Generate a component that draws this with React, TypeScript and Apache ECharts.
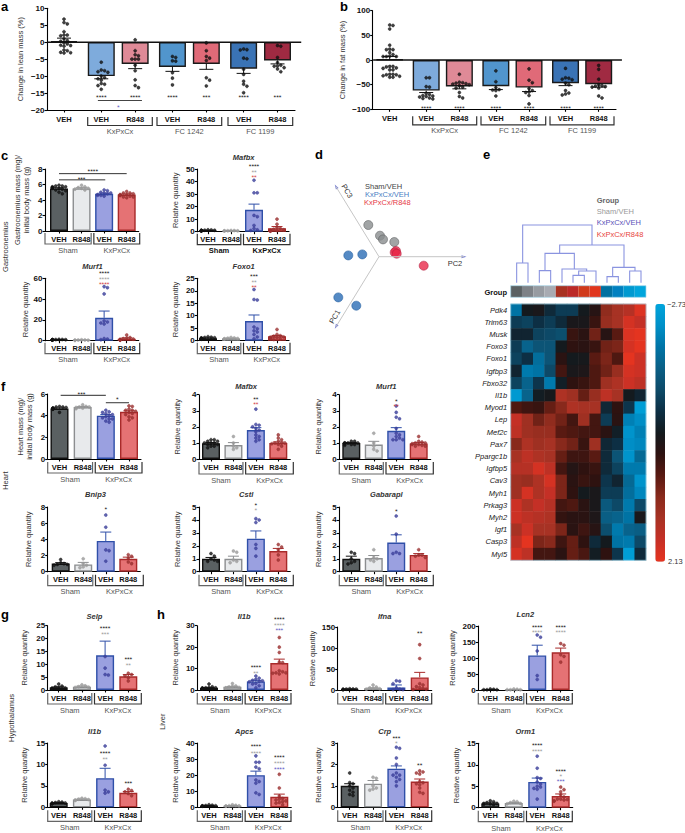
import React, { useEffect, useRef } from "react";
import * as echarts from "echarts";

const FONT = '"Liberation Sans", Arial, sans-serif';
const STAR_FONT = '"DejaVu Sans", sans-serif';
const labels7 = ["VEH", "VEH", "R848", "VEH", "R848", "VEH", "R848"];
const labels4 = ["VEH", "R848", "VEH", "R848"];

// ---- panel a
const leanMeans = [0.3, -10, -6.4, -7.3, -6.4, -7.8, -5.4];
const leanErrs = [0.9, 0.8, 1.4, 1.3, 1.6, 1.4, 1.0];
const leanPts = [
  [6.8, 5.8, 5.4, 3.1, 2.1, 2.1, 1.9, 1, 0.5, 0.3, -0.2, -0.5, -0.9, -1.0, -1.2, -2.3, -2.5, -3, -3.1, -3.2],
  [-5.9, -8.2, -8.4, -8.7, -8.9, -10, -10.4, -10.8, -11.2, -12.2, -12.4, -12.8, -13.9],
  [0.7, -2.5, -3.7, -4, -5, -5, -5, -6.8, -8.4, -11.1, -12.8, -13.4],
  [-4.2, -4.5, -5.5, -5.6, -9, -10.6, -12.6],
  [-0.2, -2.5, -4.2, -4.7, -5.4, -10.5, -11.2, -12.9],
  [-2, -2.2, -2.3, -4.7, -4.9, -8, -9.5, -11.5, -12.4, -13, -14.9],
  [-1, -1.2, -4.5, -6, -6.8, -7, -7.1, -7.5, -7.9, -8.7],
];
// ---- panel b
const fatMeans = [1, -62, -53.5, -53, -56, -47, -49];
const fatErrs = [6, 4, 5, 7, 8, 5, 6];
const fatPts = [
  [71, 70, 63, 30, 22, 21, 21, 15, 11, 8, 7, 7, 7, -13, -13, -16, -14, -17, -20, -20, -29, -29, -30, -30, -32, -33, -35, -35],
  [-36, -36, -54, -55, -68, -70, -72, -73, -74, -75, -77, -78, -79],
  [-29, -45, -46, -47, -48, -49, -50, -52, -55, -57, -66, -74, -77],
  [-22, -44, -56, -60, -61, -62, -73],
  [-18, -41, -46, -58, -62, -65, -66, -72, -89],
  [-17, -36, -37, -39, -40, -47, -50, -62, -67, -69, -71],
  [-11, -19, -39, -50, -52, -53, -54, -55, -57, -73, -77],
];
// ---- panel c
const gastroMeans = [5.5, 5.5, 4.8, 4.7];
const gastroErrs = [0.08, 0.08, 0.08, 0.08];
const gastroPts = [
  [5.9, 5.8, 5.8, 5.7, 5.7, 5.6, 5.6, 5.5, 5.5, 5.4, 5.3, 5.2, 5, 4.8],
  [5.9, 5.7, 5.6, 5.5, 5.5, 5.4, 5.3],
  [5.3, 5.2, 5, 4.9, 4.9, 4.8, 4.7, 4.6, 4.6, 4.5],
  [5.1, 4.9, 4.9, 4.8, 4.7, 4.7, 4.6, 4.6, 4.5, 4.4, 4.4, 4.3],
];
const mafbxGMeans = [1, 0.8, 17.5, 2.8];
const mafbxGErrs = [0.1, 0.1, 4.5, 1.3];
const mafbxGPts = [
  [1.5, 1.4, 1.2, 1.1, 1, 1, 0.9, 0.8, 0.8, 0.7, 0.6],
  [1, 0.9, 0.8, 0.7, 0.7, 0.6],
  [41, 31, 31, 13, 12, 5, 2.5, 1.5, 1],
  [10, 6, 3.5, 2.5, 2, 1.5, 1.2, 1, 0.8, 0.5, 0.5],
];
const murf1GMeans = [1, 0.6, 22, 1.8];
const murf1GErrs = [0.1, 0.1, 6.5, 0.8];
const murf1GPts = [
  [1.3, 1.2, 1.1, 1, 1, 0.9, 0.9, 0.8, 0.7, 0.6],
  [0.9, 0.7, 0.6, 0.5, 0.5, 0.4],
  [52, 51, 45, 19, 18, 17, 16, 2, 1.5, 1],
  [5.5, 3, 2.5, 2, 1.5, 1.2, 1, 0.8, 0.6, 0.5],
];
const foxo1GMeans = [1, 0.9, 7.9, 1.8];
const foxo1GErrs = [0.1, 0.1, 2.4, 0.3];
const foxo1GPts = [
  [1.6, 1.4, 1.3, 1.2, 1.1, 1, 0.9, 0.8, 0.7, 0.6],
  [1.3, 1.1, 1, 0.9, 0.8, 0.7],
  [20.5, 16.5, 16.3, 5.5, 4.8, 4, 3.5, 2.5, 1.5, 0.8],
  [4.5, 2.5, 2, 1.8, 1.5, 1.4, 1.2, 1, 0.9, 0.7, 0.5],
];
// ---- panel f
const heartMeans = [4.65, 4.8, 4, 4.35];
const heartErrs = [0.05, 0.05, 0.1, 0.1];
const heartPts = [
  [4.85, 4.8, 4.8, 4.75, 4.7, 4.7, 4.65, 4.6, 4.6, 4.3],
  [5, 4.85, 4.8, 4.8, 4.75, 4.7, 4.65],
  [4.5, 4.35, 4.3, 4.2, 4.1, 4, 3.9, 3.8, 3.7, 3.7, 3.5, 3.4],
  [4.9, 4.85, 4.6, 4.5, 4.5, 4.4, 4.3, 4.2, 4.1, 3.9, 3.8, 3.6],
];
const mafbxHMeans = [0.98, 0.87, 1.8, 1];
const mafbxHErrs = [0.05, 0.15, 0.15, 0.06];
const mafbxHPts = [
  [1.2, 1.2, 1.1, 1.1, 1, 1, 1, 0.9, 0.9, 0.8, 0.8, 0.7],
  [1.4, 1, 0.8, 0.7, 0.6],
  [3.1, 2.15, 2.1, 2, 1.9, 1.8, 1.7, 1.5, 1.4, 1.3, 1.2, 1.1],
  [1.5, 1.3, 1.2, 1.1, 1, 1, 1, 0.95, 0.9, 0.8, 0.6],
];
const murf1HMeans = [1, 0.9, 1.75, 0.97];
const murf1HErrs = [0.03, 0.2, 0.2, 0.05];
const murf1HPts = [
  [1.1, 1.1, 1, 1, 1, 1, 0.95, 0.95, 0.9, 0.9, 0.85],
  [1.6, 1, 0.8, 0.6, 0.5],
  [3.3, 2.9, 2.6, 2.5, 1.9, 1.6, 1.5, 1.4, 1.3, 1.2, 1.2, 1.2],
  [1.4, 1.1, 1.05, 1, 1, 0.95, 0.9, 0.9, 0.85, 0.8, 0.8],
];
const bnip3Means = [1, 0.9, 3.8, 1.6];
const bnip3Errs = [0.12, 0.25, 1.1, 0.2];
const bnip3Pts = [
  [1.5, 1.1, 1, 0.9, 0.9, 0.8],
  [1.6, 1, 0.8, 0.6, 0.5],
  [7, 5.5, 2.7, 2.6, 1.3],
  [2.1, 1.9, 1.7, 1.2, 1],
];
const cstlMeans = [1, 1, 2.55, 1.6];
const cstlErrs = [0.1, 0.2, 0.6, 0.2];
const cstlPts = [
  [1.4, 1.2, 1, 0.9, 0.8, 0.8],
  [1.6, 1.5, 0.9, 0.8, 0.7],
  [4.1, 4, 3.8, 2.1, 1.8, 1.2],
  [2.1, 1.9, 1.7, 1.3, 0.9],
];
const gabaraplMeans = [1, 1.05, 2.25, 1.3];
const gabaraplErrs = [0.2, 0.2, 0.6, 0.1];
const gabaraplPts = [
  [1.5, 1.4, 1, 0.8, 0.7, 0.6],
  [1.7, 1.1, 1, 0.9, 0.8],
  [4.3, 2.9, 1.5, 1.4, 1.4],
  [1.7, 1.3, 1.3, 1.2, 1.1],
];
// ---- panel g
const selpMeans = [1, 1.3, 13.5, 5.3];
const selpErrs = [0.2, 0.2, 5.5, 0.7];
const selpPts = [
  [2.3, 1.5, 1.2, 1, 0.8, 0.7, 0.6, 0.5],
  [2, 1.6, 1.3, 1.1, 1],
  [13, 8.5, 6, 5.8],
  [6.5, 6, 5.5, 4.8, 3.5],
];
const il1bHyMeans = [1, 1.8, 6.8, 3.4];
const il1bHyErrs = [0.1, 0.1, 2.3, 0.3];
const il1bHyPts = [
  [1.3, 1.2, 1.1, 1, 1, 0.9, 0.8],
  [2.1, 2, 1.9, 1.8, 1.7, 1.6],
  [14.3, 9.8, 4, 3.6, 3.3],
  [4.2, 3.9, 3.6, 3.2, 2.7],
];
// ---- panel h
const il1bLiMeans = [1, 1.5, 4, 12.6];
const il1bLiErrs = [0.1, 0.2, 0.5, 1.8];
const il1bLiPts = [
  [2.8, 1.5, 1.2, 1, 1, 0.9, 0.8, 0.7, 0.6, 0.5],
  [3, 1.9, 1.6, 1.4, 1.2, 1, 0.9],
  [6.5, 5.5, 5, 4.5, 4.3, 4, 3.8, 3, 2.8, 2, 1],
  [24.5, 20, 17.5, 13, 12.8, 9, 8.5, 8, 8, 7.8, 7.5],
];
const ifnaMeans = [2, 4, 6, 30];
const ifnaErrs = [0.5, 1, 6, 12];
const ifnaPts = [
  [3, 2.5, 2, 2, 1.5, 1, 1],
  [12, 7, 5, 4, 3, 2],
  [22, 21, 15, 5, 2, 1, 1],
  [108, 75, 15, 12, 8, 6, 4, 2, 1],
];
const lcn2Means = [1, 1, 108, 118];
const lcn2Errs = [0.5, 0.5, 32, 13];
const lcn2Pts = [
  [3, 2, 1, 1, 1],
  [3, 2, 1, 1, 1],
  [172, 165, 122, 45, 33],
  [145, 140, 110, 105, 87],
];
const apcsMeans = [1, 1, 20, 6.5];
const apcsErrs = [0.1, 0.1, 2.5, 1.7];
const apcsPts = [
  [1.6, 1.3, 1.1, 1, 0.9, 0.8, 0.7],
  [1.5, 1.2, 1, 0.9, 0.8, 0.7],
  [32, 28, 28, 25, 24, 17, 16, 15, 9, 8],
  [20.5, 12, 7, 5.5, 5, 4.5, 4, 3.5, 3, 2.5, 1.5],
];
const crpMeans = [1, 1.1, 1.8, 1.2];
const crpErrs = [0.1, 0.15, 0.13, 0.12];
const crpPts = [
  [1.6, 1.15, 1.1, 1, 0.9, 0.8, 0.7, 0.6, 0.55],
  [1.4, 1.35, 1, 0.9, 0.85, 0.8],
  [2.8, 2.75, 2.3, 2, 1.6, 1.5, 1.5, 1.4, 1.3, 1.2, 1],
  [1.7, 1.65, 1.6, 1.55, 1.2, 1.15, 1.1, 1.05, 0.9, 0.7, 0.65],
];
const orm1Means = [1, 1.1, 6, 2.7];
const orm1Errs = [0.1, 0.1, 0.9, 0.5];
const orm1Pts = [
  [1.6, 1.4, 1.2, 1, 1, 0.9, 0.8, 0.7],
  [1.5, 1.4, 1.2, 1, 0.9],
  [12, 9.2, 7, 6.8, 6, 5.5, 5, 4.8, 4.5, 4.3, 2],
  [4.8, 4.2, 3.7, 3, 2.5, 2, 2, 1.9, 1.8, 1.6, 1.5],
];

// ---- panel d
const pcaSham = [[-10.7, 31.7], [1, 21], [4, 17.3], [15.3, 14.7]];
const pcaVeh = [[-30.7, 1.3], [-16.7, 2.3], [-40.7, -40.7], [-22.7, -49]];
const pcaR848 = [[17, 5.7], [15.7, 4.3], [17.7, 3], [44.7, -9]];

// ---- panel e
const genes = ["Pdk4", "Trim63", "Musk", "Foxo3", "Foxo1", "Igfbp3", "Fbxo32", "Il1b", "Myod1", "Lep", "Mef2c", "Pax7", "Ppargc1b", "Igfbp5", "Cav3", "Myh1", "Prkag3", "Myh2", "Igf1", "Casp3", "Myl5"];
const heat = [
  [-1.9, -0.3, -0.2, -0.6, -0.9, -0.9, -0.3, 0.0, 1.0, 1.3, 1.5, 2.0],
  [-0.9, -1.0, -0.7, -0.9, -0.6, -0.2, -0.2, 0.2, 1.1, 1.3, 1.9, 1.7],
  [-0.5, -0.5, -1.0, -1.1, -1.2, 0.2, 0.05, 0.7, 0.0, 0.5, 2.0, 2.1],
  [-0.9, -1.6, -1.3, -1.3, -0.3, 0.1, 0.05, 0.2, 0.7, 0.8, 1.9, 2.1],
  [-1.0, -0.7, -1.8, -1.3, 0.05, -0.3, -0.25, 0.5, 0.8, 0.4, 2.1, 1.8],
  [-0.5, -2.0, -1.9, -1.1, 0.3, -0.2, -0.15, 0.4, 0.7, 1.1, 1.9, 1.8],
  [-1.0, -1.6, -0.8, -2.0, -0.4, 0.1, 0.2, 0.4, 1.2, 1.4, 1.8, 1.6],
  [-2.5, -1.6, -0.35, -0.25, 1.4, 1.2, 0.6, 1.1, 1.6, 1.3, -0.3, -0.5],
  [0.4, 0.25, 0.2, 0.6, 0.9, 1.4, 1.3, 1.3, -0.55, 0.1, -0.8, -2.6],
  [1.7, 1.2, 0.7, 1.0, 0.7, 0.3, 1.2, 0.3, -0.9, 0.05, -2.1, -2.3],
  [1.6, 1.2, 1.1, 1.1, 0.5, 0.4, 0.3, 0.3, 0.05, -0.4, -2.4, -2.1],
  [0.9, 1.4, 1.2, 1.3, 0.9, 0.7, 0.2, 1.2, -0.55, -0.7, -2.3, -2.2],
  [1.3, 1.6, 1.4, 1.3, 0.6, 0.25, 0.25, 0.5, -0.6, -1.3, -2.4, -1.7],
  [1.5, 1.5, 1.9, 1.6, 0.3, -0.05, 0.1, 0.2, -0.6, -1.0, -2.0, -2.0],
  [1.2, 1.1, 1.4, 1.9, 0.8, 0.05, 0.2, 0.1, -0.8, -0.5, -1.7, -2.4],
  [1.2, 1.9, 1.4, 1.7, 0.8, 0.1, -0.3, -0.2, -0.9, -0.9, -1.8, -2.2],
  [1.8, 1.4, 1.7, 1.5, 0.3, 0.4, 0.05, -0.2, -1.4, -1.1, -2.0, -1.1],
  [1.8, 1.6, 1.5, 1.4, 0.15, 0.05, 0.05, -0.15, -1.5, -1.6, -1.9, -0.2],
  [1.3, 1.8, 1.3, 1.3, 0.8, 0.05, 0.25, 0.0, -1.2, -2.0, -1.6, -1.5],
  [1.6, 2.1, 0.8, 0.9, 0.25, 0.6, 0.1, -0.6, -0.3, -1.9, -2.0, -1.1],
  [1.9, 1.6, 0.3, 0.3, 0.05, 0.6, 0.35, -0.35, 0.1, -0.8, -2.6, -0.6],
];
const heatColors = ["#00a5dc", "#0090c8", "#0074a6", "#0a5f85", "#0d4a68", "#0d2f44", "#141a1e", "#2e1210", "#5a1a12", "#8a2a1c", "#a83224", "#c63026", "#e63420"];
const groupStrip = ["#5b6163", "#7e8287", "#979ba1", "#a8abb2", "#a83222", "#bb2a28", "#d03a1c", "#e0361e", "#0070a0", "#0080c0", "#0099d0", "#00a5dc"];
// dendrogram outlines, in units of a 3x-enlarged view
const dendro = [
  [[668, 354], [668, 240], [876, 240], [876, 300]],
  [[650, 413], [650, 354], [684, 354], [684, 413]],
  [[779, 325], [779, 300], [972, 300], [972, 367]],
  [[735, 377], [735, 325], [823, 325], [823, 372]],
  [[718, 413], [718, 377], [752, 377], [752, 413]],
  [[786, 413], [786, 372], [860, 372], [860, 378]],
  [[836, 391], [836, 378], [888, 378], [888, 413]],
  [[819, 413], [819, 391], [853, 391], [853, 413]],
  [[938, 395], [938, 367], [1005, 367], [1005, 378]],
  [[921, 413], [921, 395], [955, 395], [955, 413]],
  [[989, 413], [989, 378], [1023, 378], [1023, 413]],
];

const BLK = "#111";
const GRY = "#9a9a9a";
const RED = "#d2403f";
const BLU = "#5b58c4";
const fill4 = ["#5a6062", "#e8eaec", "#9aa0e0", "#e57274"];
const edge4 = ["#111", "#8c8e90", "#2f4fa8", "#a82a2a"];
const dot4 = ["#111", "#9a9a9a", "#3b3f9a", "#9a2f2f"];
const fill7 = ["#111", "#7eabdc", "#df8a97", "#5195cd", "#e06a78", "#3a73b5", "#a02a42"];

const slots7 = [0, 1.1, 2.1, 3.2, 4.2, 5.3, 6.3];
const slots4 = [0, 1, 2, 3];

type Star = [number, number, string, string];
type Sig = [number, number, number, string, number];
type P = {
  title?: string; name: string; nameX: number; x0: number; xEnd: number; yTop: number; yBot: number;
  min: number; max: number; interval: number; c0: number; cN: number; slots: number[]; labels: string[];
  means: number[]; errs: number[]; pts: number[][]; stars: Star[]; sig?: Sig[];
  barW: number; fills: string[]; edges: string[]; dots: string[]; titleX?: number; titleY?: number;
  brackets: [number, number, string, boolean?][]; br: [number, number, number]; capW?: number; labelMargin?: number;
};

function swarm(vals: number[], pxPerUnit: number, slot: number, spacing: number, maxOff: number) {
  const d = 3.3;
  const placed: [number, number][] = [];
  return [...vals].sort((a, b) => b - a).map((v) => {
    const py = v * pxPerUnit;
    let off = 0;
    for (let k = 0; k < 40; k++) {
      const c = k === 0 ? 0 : (k % 2 ? 1 : -1) * Math.ceil(k / 2) * d;
      if (Math.abs(c) > maxOff) break;
      off = c;
      if (placed.every(([x, y]) => (x - c) ** 2 + (y - py) ** 2 >= d * d * 0.8)) break;
    }
    placed.push([off, py]);
    return [slot + off / spacing, v];
  });
}

function four(
  title: string | undefined, name: string, nameX: number, x0: number, c0: number, c3: number,
  yTop: number, yBot: number, max: number, interval: number,
  means: number[], errs: number[], pts: number[][], stars: Star[], sig: Sig[] = [],
  br: [number, number, number] = [3, 14, 20.5], groupBold = false, brEnd?: number, titleY?: number,
): P {
  const sp = (c3 - c0) / 3;
  const mid = c0 + 1.5 * sp;
  const xEnd = c3 + 12;
  return {
    title, name, nameX, x0, xEnd, yTop, yBot, min: 0, max, interval, c0, cN: c3, slots: slots4, labels: labels4,
    means, errs, pts, stars, sig, barW: 18, fills: fill4, edges: edge4, dots: dot4, titleX: (x0 + (brEnd ?? c3 + 13)) / 2, titleY,
    brackets: [[x0, mid - 1.7, "Sham", groupBold], [mid + 1, brEnd ?? c3 + 13, "KxPxCx", groupBold]], br,
  };
}

const K = 2; // KxPxCx/VEH slot
const R = 3; // KxPxCx/R848 slot
const STARS4 = "****";
const BR_C: [number, number, number] = [2, 13, 19];

const panels: P[] = [
  {
    name: "Change in lean mass (%)", nameX: 21, x0: 47, xEnd: 295, yTop: 8.3, yBot: 110, min: -20, max: 10, interval: 5,
    c0: 64, cN: 277.5, slots: slots7, labels: labels7, means: leanMeans, errs: leanErrs, pts: leanPts,
    stars: [[1.1, -16, STARS4, BLK], [2.1, -16, STARS4, BLK], [3.2, -16, STARS4, BLK], [4.2, -16, "***", BLK], [5.3, -16, STARS4, BLK], [6.3, -16, "***", BLK], [1.6, -18.8, "*", BLU]],
    sig: [[-0.5, 7, 0, BLK, 1.4], [1.0, 2.3, -17.2, "#444", 1]],
    barW: 27, fills: fill7, edges: Array(7).fill("#1a1a1a"), dots: Array(7).fill("#111"),
    brackets: [[87.7, 152.3, "KxPxCx"], [157, 221.7, "FC 1242"], [228, 292.7, "FC 1199"]], br: [7, 15.5, 21.7], capW: 14, labelMargin: 5,
  },
  {
    name: "Change in fat mass (%)", nameX: 343, x0: 372.7, xEnd: 616, yTop: 10.7, yBot: 109.3, min: -100, max: 100, interval: 50,
    c0: 389.7, cN: 598.7, slots: slots7, labels: labels7, means: fatMeans, errs: fatErrs, pts: fatPts,
    stars: [[1.1, -95, STARS4, BLK], [2.1, -95, STARS4, BLK], [3.2, -95, STARS4, BLK], [4.2, -95, STARS4, BLK], [5.3, -95, STARS4, BLK], [6.3, -95, STARS4, BLK]],
    sig: [[-0.5, 7, 0, BLK, 1.4]],
    barW: 27, fills: fill7, edges: Array(7).fill("#1a1a1a"), dots: Array(7).fill("#111"),
    brackets: [[412.7, 476.7, "KxPxCx"], [481, 545.7, "FC 1242"], [550, 614, "FC 1199"]], br: [7, 15.5, 20.7], capW: 14, labelMargin: 5,
  },
  four(undefined, "Gastrocnemius mass (mg)/\ninitial body mass (g)", 27, 45, 59, 126.7, 169, 231, 8, 2, gastroMeans, gastroErrs, gastroPts,
    [[1.5, 7.9, STARS4, BLK], [1, 6.9, "***", BLK]], [[0, 3, 7.4, "#333", 1], [0, 2.05, 6.6, "#333", 1]], BR_C),
  four("Mafbx", "Relative quantity", 175.7, 197.3, 208, 277, 169, 231.7, 50, 10, mafbxGMeans, mafbxGErrs, mafbxGPts,
    [[K, 53, STARS4, BLK], [K, 48.7, "**", GRY], [K, 44.4, "**", RED]], [], BR_C, true, undefined, 157),
  four("Murf1", "Relative quantity", 25.7, 45, 59, 126.7, 278.3, 340.7, 60, 20, murf1GMeans, murf1GErrs, murf1GPts,
    [[K, 66, STARS4, BLK], [K, 60.7, STARS4, GRY], [K, 55.5, STARS4, RED]], [], BR_C, false, undefined, 266.7),
  four("Foxo1", "Relative quantity", 175.7, 197.3, 208, 277, 278.3, 340.7, 25, 5, foxo1GMeans, foxo1GErrs, foxo1GPts,
    [[K, 26.5, "***", BLK], [K, 24, "**", GRY], [K, 21.8, "**", RED]], [], BR_C, false, undefined, 266.7),
  four(undefined, "Heart mass (mg)/\ninitial body mass (g)", 30, 47.7, 59.5, 129, 394, 459, 6, 2, heartMeans, heartErrs, heartPts,
    [[0.95, 6.1, "***", BLK], [2.5, 5.6, "*", BLK]], [[0.05, 2, 5.88, "#555", 1.2], [2, 3, 5.2, "#555", 1.2]]),
  four("Mafbx", "Relative quantity", 178, 199, 211, 278.3, 394.7, 459, 4, 1, mafbxHMeans, mafbxHErrs, mafbxHPts,
    [[K, 3.8, "**", BLK], [K, 3.5, "**", RED]], [], [3, 15, 21], false, 293.3, 386),
  four("Murf1", "Relative quantity", 319.3, 339.3, 351.3, 418.7, 394.7, 459, 4, 1, murf1HMeans, murf1HErrs, murf1HPts,
    [[K, 3.7, "*", BLK], [K, 3.35, "**", RED]], [], [3, 15, 21], false, 433.3, 386),
  four("Bnip3", "Relative quantity", 29, 47.7, 60.7, 128.3, 507, 571.7, 8, 2, bnip3Means, bnip3Errs, bnip3Pts,
    [[K, 7.9, "*", BLK]], [], [3, 14, 19.6], false, 143.3, 494.7),
  four("Cstl", "Relative quantity", 178, 199, 211, 278.3, 507, 571.7, 5, 1, cstlMeans, cstlErrs, cstlPts,
    [[K, 5.2, "*", BLK], [K, 4.85, "*", GRY]], [], [3, 14, 19.6], false, 293.3, 494.7),
  four("Gabarapl", "Relative quantity", 319.3, 339.3, 351.3, 418.7, 507, 571.7, 5, 1, gabaraplMeans, gabaraplErrs, gabaraplPts,
    [[K, 4.8, "*", BLK]], [], [3, 14, 19.6], false, 433.3, 494.7),
  four("Selp", "Relative quantity", 25, 47.7, 58.7, 128.3, 625.7, 690, 25, 5, selpMeans, selpErrs, selpPts,
    [[K, 24.4, STARS4, BLK], [K, 22, "***", GRY], [R, 12.6, "***", BLK], [R, 10.1, "**", GRY]], [], undefined, false, undefined, 616),
  four("Il1b", "Relative quantity", 25, 47.7, 58.7, 128.3, 743, 807.3, 15, 5, il1bHyMeans, il1bHyErrs, il1bHyPts,
    [[K, 12.8, STARS4, BLK], [K, 11.5, "**", GRY], [R, 6, "***", BLK]], [], undefined, false, undefined, 731.7),
  four("Il1b", "Relative quantity", 175.7, 197.3, 209, 279.3, 625.7, 690, 30, 10, il1bLiMeans, il1bLiErrs, il1bLiPts,
    [[K, 11.4, STARS4, BLK], [K, 8.6, "**", GRY], [R, 33.6, STARS4, BLK], [R, 31, STARS4, GRY], [R, 28.4, "***", BLU]], [], undefined, false, 291, 616),
  four("Ifna", "Relative quantity", 312.7, 337.7, 349.7, 419.7, 627, 690, 150, 50, ifnaMeans, ifnaErrs, ifnaPts,
    [[R, 137, "**", BLK]], [], undefined, false, 431.7, 616),
  four("Lcn2", "Relative quantity", 453.3, 478.3, 490.3, 560.7, 626, 690, 200, 50, lcn2Means, lcn2Errs, lcn2Pts,
    [[K, 201, STARS4, BLK], [K, 184, STARS4, GRY], [R, 201, STARS4, BLK], [R, 184, STARS4, GRY]], [], undefined, false, 572.3, 614),
  four("Apcs", "Relative quantity", 175.7, 197.3, 209, 279.3, 743, 807.3, 40, 10, apcsMeans, apcsErrs, apcsPts,
    [[K, 38.5, STARS4, BLK], [K, 34.5, STARS4, GRY], [R, 32, STARS4, BLK], [R, 28, STARS4, GRY], [R, 24.5, STARS4, BLU]], [], undefined, false, 291, 731.7),
  four("Crp", "Relative quantity", 319, 337.7, 349.7, 419.7, 743, 807.3, 3, 1, crpMeans, crpErrs, crpPts,
    [[K, 3.3, "***", BLK], [K, 3.03, "*", GRY], [R, 2, "**", BLK]], [], undefined, false, 431.7, 731.7),
  four("Orm1", "Relative quantity", 456.7, 478.3, 490.3, 560.7, 743.3, 807.7, 15, 5, orm1Means, orm1Errs, orm1Pts,
    [[K, 14.8, STARS4, BLK], [K, 13.5, STARS4, GRY], [R, 8.8, STARS4, BLK], [R, 7.6, "*", GRY], [R, 6.5, "***", BLU]], [], undefined, false, 572.3, 731.7),
];

function build() {
  const grid: any[] = [];
  const xAxis: any[] = [];
  const yAxis: any[] = [];
  const series: any[] = [];
  const graphic: any[] = [];
  const text = (x: number, y: number, t: string, font: string, fill = "#333", align = "center", rotation = 0) =>
    graphic.push({ type: "text", x, y, rotation, silent: true, style: { text: t, font: `${font} ${FONT}`, fill, align, verticalAlign: "middle" } });

  panels.forEach((p, i) => {
    const spacing = (p.cN - p.c0) / p.slots[p.slots.length - 1];
    const xMin = (p.x0 - p.c0) / spacing;
    const xMax = (p.xEnd - p.c0) / spacing;
    const lineStyle = { color: "#000", width: 1.1 };
    grid.push({ left: p.x0, top: p.yTop, width: p.xEnd - p.x0, height: p.yBot - p.yTop, containLabel: false });
    xAxis.push({
      gridIndex: i, type: "value", min: xMin, max: xMax, position: "bottom",
      axisLine: { onZero: false, lineStyle },
      axisTick: { length: 2.5, lineStyle, customValues: p.slots },
      axisLabel: {
        customValues: p.slots, margin: p.labelMargin ?? 4, hideOverlap: false,
        color: "#111", fontFamily: FONT, fontWeight: "bold", fontSize: 7.5,
        formatter: (v: number) => p.labels[p.slots.findIndex((s) => Math.abs(s - v) < 1e-6)] ?? "",
      },
      splitLine: { show: false },
    });
    yAxis.push({
      gridIndex: i, type: "value", min: p.min, max: p.max, interval: p.interval,
      name: p.name, nameLocation: "middle", nameGap: p.x0 - p.nameX - 4, nameRotate: 90,
      nameTextStyle: { fontFamily: FONT, fontSize: 7.5, color: "#333", lineHeight: 9 },
      axisLine: { show: true, onZero: false, lineStyle },
      axisTick: { show: true, length: 2.5, lineStyle },
      axisLabel: { margin: 2.5, color: "#111", fontFamily: FONT, fontWeight: "bold", fontSize: 8, formatter: (v: number) => String(v).replace("-", "\u2212") },
      splitLine: { show: false },
    });
    const on = { xAxisIndex: i, yAxisIndex: i };
    series.push({
      type: "bar", ...on, barWidth: p.barW, silent: true,
      data: p.means.map((m, g) => ({
        value: [p.slots[g], m],
        itemStyle: { color: p.fills[g], borderColor: p.edges[g], borderWidth: 1.4 },
      })),
    });
    series.push({
      type: "custom", ...on, silent: true, z: 3, clip: false,
      data: p.means.map((m, g) => [p.slots[g], m, p.errs[g], g]),
      renderItem: (_: any, api: any) => {
        const x = api.value(0), m = api.value(1), e = api.value(2), g = api.value(3);
        const a = api.coord([x, m]);
        const b = api.coord([x, m >= 0 ? m + e : m - e]);
        const w = (p.capW ?? 11) / 2;
        const stroke = p.slots === slots7 ? "#111" : p.edges[g];
        const style = { stroke, lineWidth: 1, fill: "none" };
        return {
          type: "group",
          children: [
            { type: "line", shape: { x1: a[0], y1: a[1], x2: b[0], y2: b[1] }, style },
            { type: "line", shape: { x1: b[0] - w, y1: b[1], x2: b[0] + w, y2: b[1] }, style },
          ],
        };
      },
    });
    const pxPerUnit = (p.yBot - p.yTop) / (p.max - p.min);
    const scatter: any[] = [];
    p.pts.forEach((vals, g) => {
      swarm(vals, pxPerUnit, p.slots[g], spacing, p.barW / 2 - 1).forEach((pt) =>
        scatter.push({ value: pt, itemStyle: { color: p.dots[g], opacity: 0.8, borderColor: p.dots[g], borderWidth: 0.6 } }));
    });
    series.push({ type: "scatter", ...on, silent: true, z: 4, clip: false, symbolSize: 3, data: scatter });
    series.push({
      type: "custom", ...on, silent: true, z: 5, clip: false,
      data: (p.sig ?? []).map((s, k) => [s[0], s[1], s[2], k]),
      renderItem: (_: any, api: any) => {
        const s = (p.sig as Sig[])[api.value(3)];
        const a = api.coord([api.value(0), api.value(2)]);
        const b = api.coord([api.value(1), api.value(2)]);
        return { type: "line", shape: { x1: a[0], y1: a[1], x2: b[0], y2: b[1] }, style: { stroke: s[3], lineWidth: s[4] } };
      },
    });
    series.push({
      type: "custom", ...on, silent: true, z: 6, clip: false,
      data: p.stars.map((s, k) => [s[0], s[1], k]),
      renderItem: (_: any, api: any) => {
        const s = p.stars[api.value(2)];
        const c = api.coord([api.value(0), api.value(1)]);
        return { type: "text", x: c[0], y: c[1] + 1, style: { text: s[2], fill: s[3], font: `bold 5px ${STAR_FONT}`, align: "center", verticalAlign: "middle" } };
      },
    });
    if (p.title) text(p.titleX as number, p.titleY as number, p.title, "italic bold 7.5px");
    p.brackets.forEach((b, k) => {
      const y1 = p.yBot + p.br[0], y2 = p.yBot + p.br[1];
      const stroke = b[3] || p.slots === slots7 || k === 1 ? "#333" : "#666";
      graphic.push({ type: "polyline", silent: true, shape: { points: [[b[0], y1], [b[0], y2], [b[1], y2], [b[1], y1]] }, style: { stroke, lineWidth: 1.2, fill: "none" } });
      text((b[0] + b[1]) / 2, p.yBot + p.br[2], b[2], b[3] ? "bold 7.5px" : "7.5px", b[3] ? "#111" : "#555");
    });
  });

  // d: PCA
  const di = grid.length;
  grid.push({ left: 330, top: 180, width: 140, height: 150 });
  xAxis.push({ gridIndex: di, type: "value", min: -49, max: 91, show: false });
  yAxis.push({ gridIndex: di, type: "value", min: -73.3, max: 76.7, show: false });
  const don = { xAxisIndex: di, yAxisIndex: di, silent: true };
  [[-43, 70], [85, 0], [-43, -70]].forEach((end) =>
    series.push({ type: "line", ...don, symbol: "none", lineStyle: { color: "#c6c6c6", width: 1 }, data: [[0, 0], end] }));
  series.push({
    type: "scatter", ...don, symbol: "triangle", symbolSize: [3, 5], itemStyle: { color: "#5560c8" },
    data: [{ value: [-43, 70], symbolRotate: 30 }, { value: [85, 0], symbolRotate: -90 }, { value: [-43, -70], symbolRotate: 150 }],
  });
  ([[pcaSham, "#8a8d8f", "#5c5e60"], [pcaVeh, "#2a6db5", "#1f5a9c"], [pcaR848, "#e8294a", "#b02040"]] as any[]).forEach(([d, c, b]) =>
    series.push({ type: "scatter", ...don, symbolSize: 9, itemStyle: { color: c, borderColor: b, borderWidth: 0.7 }, data: d }));
  text(347, 191, "PC3", "7.5px", "#333", "center", -Math.PI / 3);
  text(455, 263, "PC2", "7.5px");
  text(334.7, 316.7, "PC1", "7.5px", "#333", "center", Math.PI / 3);
  text(365, 186.7, "Sham/VEH", "7.5px", "#444", "left");
  text(365, 194.7, "KxPxCx/VEH", "7.5px", "#4a80c4", "left");
  text(364, 202.3, "KxPxCx/R848", "7.5px", "#e63946", "left");

  // e: heatmap
  const hi = grid.length;
  grid.push({ left: 510.7, top: 304, width: 135.3, height: 256.3 });
  xAxis.push({ gridIndex: hi, type: "category", data: heat[0].map((_, c) => String(c)), show: false });
  yAxis.push({
    gridIndex: hi, type: "category", data: genes, inverse: true,
    axisLine: { show: false }, axisTick: { show: false }, splitLine: { show: false },
    axisLabel: { margin: 3.5, fontFamily: FONT, fontStyle: "italic", fontSize: 7.5, color: "#222", interval: 0 },
  });
  const heatIndex = series.length;
  const heatData: number[][] = [];
  heat.forEach((row, r) => row.forEach((v, c) => heatData.push([c, r, v])));
  series.push({ type: "heatmap", xAxisIndex: hi, yAxisIndex: hi, silent: true, data: heatData });
  const si = grid.length;
  grid.push({ left: 510.7, top: 285.7, width: 135.3, height: 11.6 });
  xAxis.push({ gridIndex: si, type: "category", data: groupStrip.map((_, c) => String(c)), show: false });
  yAxis.push({ gridIndex: si, type: "value", min: 0, max: 1, show: false });
  series.push({
    type: "bar", xAxisIndex: si, yAxisIndex: si, silent: true, barWidth: "100%",
    data: groupStrip.map((c) => ({ value: 1, itemStyle: { color: c } })),
  });
  graphic.push({ type: "rect", silent: true, z: 10, shape: { x: 510.7, y: 304, width: 135.3, height: 256.3 }, style: { fill: "none", stroke: "#a8d8ea", lineWidth: 0.7 } });
  graphic.push({ type: "rect", silent: true, z: 10, shape: { x: 510.7, y: 285.7, width: 135.3, height: 11.6 }, style: { fill: "none", stroke: "#a8d8ea", lineWidth: 0.7 } });
  dendro.forEach((seg) =>
    graphic.push({ type: "polyline", silent: true, shape: { points: seg.map(([x, y]) => [300 + x / 3, 145 + y / 3]) }, style: { stroke: "#8a94e0", lineWidth: 1.1, fill: "none" } }));
  text(507, 292.7, "Group", "bold 7.5px", "#111", "right");
  text(596.7, 200.7, "Group", "bold 7.5px", "#666", "left");
  text(596.7, 211, "Sham/VEH", "7.5px", "#999", "left");
  text(596.7, 222.7, "KxPxCx/VEH", "7.5px", "#5a50b8", "left");
  text(596.7, 234.3, "KxPxCx/R848", "7.5px", "#e8453c", "left");
  text(667, 304.5, "\u22122.73", "7.5px", "#333", "left");
  text(668, 561.7, "2.13", "7.5px", "#333", "left");

  // tissue labels and panel letters
  text(5.3, 246.7, "Gastrocnemius", "7.5px", "#333", "center", Math.PI / 2);
  text(5.3, 480.7, "Heart", "7.5px", "#333", "center", Math.PI / 2);
  text(11, 718, "Hypothalamus", "7.5px", "#333", "center", Math.PI / 2);
  text(162, 721.7, "Liver", "7.5px", "#333", "center", Math.PI / 2);
  ([["a", 1, 6], ["b", 340, 6], ["c", 1, 155], ["d", 315, 154], ["e", 483, 154], ["f", 1, 386], ["g", 1, 614], ["h", 157, 614]] as [string, number, number][]).forEach(([l, x, y]) =>
    text(x, y, l, "bold 13px", "#000", "left"));

  return {
    animation: false, backgroundColor: "#fff", grid, xAxis, yAxis, series, graphic,
    visualMap: {
      type: "continuous", min: -2.73, max: 2.13, seriesIndex: heatIndex, inverse: true, calculable: false,
      left: 655.3, top: 304, itemWidth: 9.7, itemHeight: 257.7, text: ["", ""], textGap: 0, padding: 0, realtime: false,
      inRange: { color: heatColors },
    },
  };
}

export default function App() {
  const ref = useRef<HTMLDivElement>(null);
  useEffect(() => {
    const chart = echarts.init(ref.current as HTMLDivElement, undefined, { renderer: "svg" });
    chart.setOption(build() as any);
    return () => chart.dispose();
  }, []);
  return <div ref={ref} style={{ position: "absolute", left: 0, top: 0, width: 685, height: 833 }} />;
}
